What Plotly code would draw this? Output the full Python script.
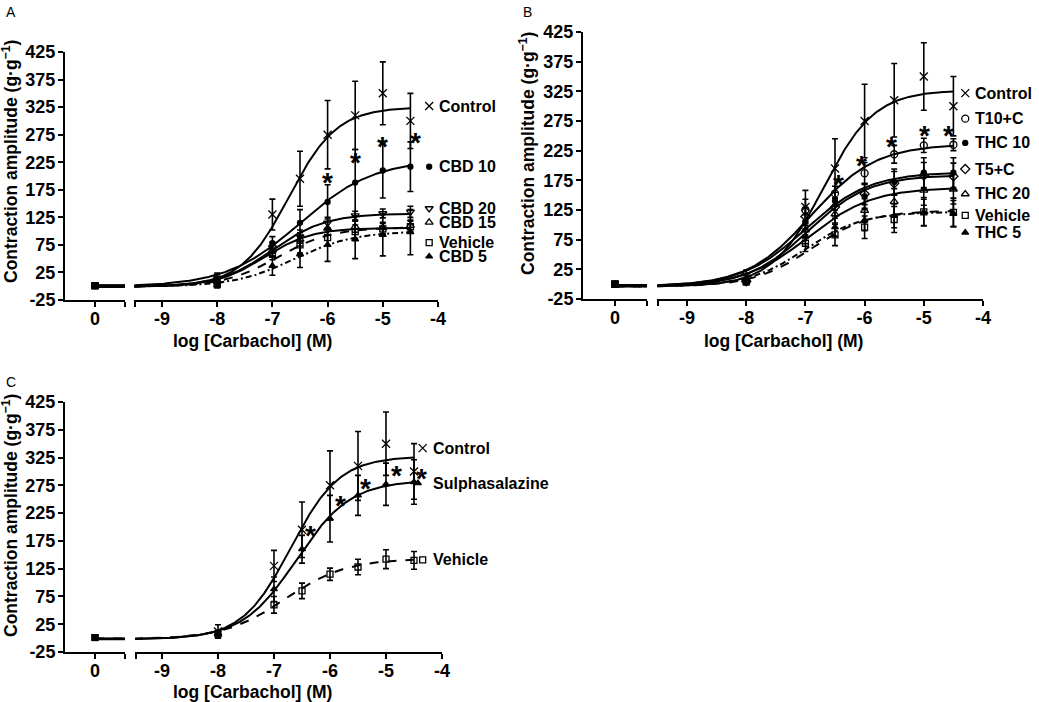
import numpy as np
import plotly.graph_objects as go

W, H = 1039, 702
FONT = "Liberation Sans, Arial, Helvetica, sans-serif"

# ---------------- data ----------------
log_conc = [-8, -7, -6.5, -6, -5.5, -5, -4.5]
y_ticks = [-25, 25, 75, 125, 175, 225, 275, 325, 375, 425]
x_ticks = [-9, -8, -7, -6, -5, -4]

# shared control data
control = [12, 130, 195, 275, 310, 350, 300]
control_sem = [12, 28, 50, 62, 62, 57, 50]

# Panel A (CBD)
a_names = ["Control", "CBD 10", "CBD 20", "CBD 15", "Vehicle", "CBD 5"]
a_base = [1, 1, 1, 1, 1, 1]
cbd10 = [14, 78, 115, 153, 188, 210, 217]
cbd10_sem = [8, 12, 24, 31, 60, 50, 45]
cbd20 = [12, 70, 90, 115, 128, 132, 135]
cbd20_sem = [6, 10, 12, 10, 8, 8, 10]
cbd15 = [10, 65, 85, 105, 108, 106, 110]
cbd15_sem = [6, 10, 12, 12, 10, 10, 10]
veh_a = [4, 58, 75, 88, 99, 104, 108]
veh_a_sem = [5, 10, 15, 15, 12, 10, 10]
cbd5 = [2, 37, 58, 75, 85, 93, 98]
cbd5_sem = [5, 17, 24, 30, 35, 38, 41]
a_top = [325, 230, 132, 106, 107, 100]
a_ec50 = [-6.7, -6.5, -7.0, -7.15, -6.9, -6.6]
a_hill = [1.0, 0.65, 0.9, 1.0, 0.9, 0.8]
a_bottom = -1
a_star_x = [-6.0, -5.5, -5.0, -4.4]
a_star_y = [199, 235, 265, 271]

# Panel B (THC)
b_names = ["Control", "T10+C", "THC 10", "T5+C", "THC 20", "Vehicle", "THC 5"]
b_base = [0, 0, 0, 0, 0, 0, 0]
t10c = [6, 125, 153, 187, 219, 234, 235]
t10c_sem = [5, 18, 12, 18, 15, 12, 10]
thc10 = [6, 105, 140, 148, 172, 188, 188]
thc10_sem = [5, 12, 15, 20, 22, 25, 25]
t5c = [5, 114, 130, 152, 170, 183, 182]
t5c_sem = [5, 15, 15, 18, 20, 22, 22]
thc20 = [5, 91, 118, 124, 139, 158, 160]
thc20_sem = [5, 12, 15, 20, 22, 25, 25]
veh_b = [4, 69, 83, 96, 109, 122, 121]
veh_b_sem = [5, 14, 18, 19, 22, 24, 24]
thc5 = [5, 80, 96, 108, 115, 121, 119]
thc5_sem = [5, 12, 15, 18, 20, 22, 22]
b_top = [327, 236, 189, 184, 163, 124, 122]
b_ec50 = [-6.7, -6.9, -7.0, -6.95, -6.95, -6.9, -7.0]
b_hill = [1.0, 0.8, 0.8, 0.85, 0.8, 0.9, 0.9]
b_bottom = -4
b_star_x = [-6.44, -6.06, -5.55, -4.99, -4.58]
b_star_y = [178, 210, 242, 260, 260]

# Panel C (Sulphasalazine)
c_names = ["Control", "Sulphasalazine", "Vehicle"]
c_base = [1, 1, 1]
sulph = [8, 88, 160, 215, 257, 277, 281]
sulph_sem = [4, 22, 25, 42, 36, 38, 40]
veh_c = [7, 60, 85, 115, 128, 142, 140]
veh_c_sem = [4, 15, 14, 11, 14, 17, 16]
c_top = [327, 284, 143]
c_ec50 = [-6.7, -6.6, -6.8]
c_hill = [1.0, 0.9, 0.8]
c_bottom = -2
c_star_x = [-6.35, -5.82, -5.36, -4.82, -4.36]
c_star_y = [195, 249, 280, 303, 298]

# ---------------- styles ----------------
SYM = {
    "Control": ("x-thin-open", 8), "CBD 10": ("circle", 5), "THC 10": ("circle", 5),
    "CBD 20": ("triangle-down-open", 7), "CBD 15": ("triangle-up-open", 7),
    "THC 20": ("triangle-up-open", 7), "Vehicle": ("square-open", 6),
    "CBD 5": ("triangle-up", 6), "THC 5": ("triangle-up", 6),
    "Sulphasalazine": ("triangle-up", 6), "T10+C": ("circle-open", 7),
    "T5+C": ("diamond-open", 7),
}
DASH = {"Vehicle": "dash", "CBD 5": "6px,3px,2px,3px", "THC 5": "6px,3px,2px,3px"}

panels = [
    dict(names=a_names, base=a_base,
         means=[control, cbd10, cbd20, cbd15, veh_a, cbd5],
         sems=[control_sem, cbd10_sem, cbd20_sem, cbd15_sem, veh_a_sem, cbd5_sem],
         top=a_top, ec50=a_ec50, hill=a_hill, bottom=a_bottom,
         star_x=a_star_x, star_y=a_star_y,
         px_y=(52, 300), px_left=(65, 125), px_right=(134, 438), px_m9=162, px_m4=438,
         leg_x=-4.16, leg_y=[327, 217, 141, 116, 79, 54], leg_xs=[0, 0, 0, 0, 0, 0],
         label="A", label_pos=(4, 2), xt_pos=(252, 341), yt_pos=(10, 162)),
    dict(names=b_names, base=b_base,
         means=[control, t10c, thc10, t5c, thc20, veh_b, thc5],
         sems=[control_sem, t10c_sem, thc10_sem, t5c_sem, thc20_sem, veh_b_sem, thc5_sem],
         top=b_top, ec50=b_ec50, hill=b_hill, bottom=b_bottom,
         star_x=b_star_x, star_y=b_star_y,
         px_y=(32, 299), px_left=(583, 647), px_right=(657, 983), px_m9=687, px_m4=983,
         leg_x=-4.30, leg_y=[322, 279, 238, 194, 152, 116, 87], leg_xs=[0] * 7,
         label="B", label_pos=(521, 2), xt_pos=(783, 341), yt_pos=(527, 154)),
    dict(names=c_names, base=c_base,
         means=[control, sulph, veh_c],
         sems=[control_sem, sulph_sem, veh_c_sem],
         top=c_top, ec50=c_ec50, hill=c_hill, bottom=c_bottom,
         star_x=c_star_x, star_y=c_star_y,
         px_y=(402, 652), px_left=(65, 125), px_right=(135, 442), px_m9=162, px_m4=442,
         leg_x=-4.345, leg_y=[342, 279, 141], leg_xs=[0, -0.085, 0],
         label="C", label_pos=(4, 372), xt_pos=(252, 692), yt_pos=(10, 516)),
]

fig = go.Figure()
layout = dict(template="none", width=W, height=H, margin=dict(l=0, r=0, t=0, b=0, pad=0),
              autosize=False,
              paper_bgcolor="white", plot_bgcolor="white", showlegend=False,
              font=dict(family=FONT, color="black"))
annotations = []

AX = dict(showgrid=False, zeroline=False, showline=True, linecolor="black", linewidth=2,
          ticks="outside", ticklen=5, tickwidth=2, tickcolor="black", automargin=False,
          tickfont=dict(family=FONT, size=18, color="black", weight="bold"))

for i, p in enumerate(panels):
    xl = f"x{2*i+1}" if i > 0 else "x"
    xr = f"x{2*i+2}"
    yy = f"y{i+1}" if i > 0 else "y"
    xl_key = "xaxis" if i == 0 else f"xaxis{2*i+1}"
    xr_key = f"xaxis{2*i+2}"
    y_key = "yaxis" if i == 0 else f"yaxis{i+1}"

    py0, py1 = p["px_y"]
    ydom = [1 - py1 / H, 1 - py0 / H]
    scale = (p["px_m4"] - p["px_m9"]) / 5.0
    x_start = -9 - (p["px_m9"] - p["px_right"][0]) / scale

    layout[y_key] = dict(AX, domain=ydom, range=[-25, 425], anchor=xl,
                         ticklabelstandoff=-1,
                         tickvals=y_ticks, ticktext=[str(v) for v in y_ticks])
    layout[xl_key] = dict(AX, domain=[p["px_left"][0] / W, p["px_left"][1] / W],
                          range=[-1, 1], anchor=yy, tickvals=[0], ticktext=["0"],
                          ticklabelstandoff=-4,
                          minor=dict(tickvals=[0.99], ticklen=5, tickwidth=2,
                                     tickcolor="black", ticks="outside", showgrid=False))
    layout[xr_key] = dict(AX, domain=[p["px_right"][0] / W, p["px_right"][1] / W],
                          range=[x_start, -4], anchor=yy, ticklabelstandoff=-4,
                          tickvals=x_ticks, ticktext=[str(v) for v in x_ticks],
                          minor=dict(tickvals=[x_start + 0.01], ticklen=5, tickwidth=2,
                                     tickcolor="black", ticks="outside", showgrid=False))

    xfit = np.linspace(-9.5, -4.5, 300)
    for k, name in enumerate(p["names"]):
        sym, size = SYM[name]
        dash = DASH.get(name, "solid")
        top, ec, h, bot = p["top"][k], p["ec50"][k], p["hill"][k], p["bottom"]
        yfit = bot + (top - bot) / (1 + 10 ** ((ec - xfit) * h))
        # fitted curve
        fig.add_trace(go.Scatter(x=xfit, y=yfit, mode="lines", xaxis=xr, yaxis=yy,
                                 line=dict(color="black", width=2, dash=dash),
                                 hoverinfo="skip"))
        fig.add_trace(go.Scatter(x=[0, 1], y=[yfit[0], yfit[0]], mode="lines",
                                 xaxis=xl, yaxis=yy, cliponaxis=True,
                                 line=dict(color="black", width=2.5, dash=dash),
                                 hoverinfo="skip"))
        mk = dict(symbol=sym, size=size, color="black",
                  line=dict(color="black", width=1.3))
        # data points
        fig.add_trace(go.Scatter(x=log_conc, y=p["means"][k], mode="markers",
                                 xaxis=xr, yaxis=yy, marker=mk, cliponaxis=False,
                                 error_y=dict(type="data", array=p["sems"][k], color="black",
                                              thickness=1.6, width=3)))
        fig.add_trace(go.Scatter(x=[0], y=[p["base"][k]], mode="markers",
                                 xaxis=xl, yaxis=yy, cliponaxis=False,
                                 marker=dict(symbol="square", size=7, color="black")))
        # legend
        lx = p["leg_x"] + p["leg_xs"][k]
        fig.add_trace(go.Scatter(x=[lx], y=[p["leg_y"][k]], mode="markers",
                                 xaxis=xr, yaxis=yy, marker=mk, cliponaxis=False))
        annotations.append(dict(x=p["leg_x"], y=p["leg_y"][k], xref=xr, yref=yy,
                                text=name, showarrow=False, xanchor="left", yanchor="middle",
                                xshift=8,
                                font=dict(family=FONT, size=16, weight="bold", color="black")))
    for sx, sy in zip(p["star_x"], p["star_y"]):
        annotations.append(dict(x=sx, y=sy, xref=xr, yref=yy, text="*", showarrow=False,
                                xanchor="center", yanchor="middle", yshift=-6,
                                font=dict(family=FONT, size=28, weight="bold", color="black")))
    # panel label and axis titles
    annotations.append(dict(x=p["label_pos"][0] / W, y=1 - p["label_pos"][1] / H,
                            xref="paper", yref="paper", text=p["label"], showarrow=False,
                            xanchor="left", yanchor="top",
                            font=dict(family=FONT, size=14, color="black")))
    annotations.append(dict(x=p["xt_pos"][0] / W, y=1 - p["xt_pos"][1] / H,
                            xref="paper", yref="paper", text="log [Carbachol] (M)",
                            showarrow=False, xanchor="center", yanchor="middle",
                            font=dict(family=FONT, size=17.5, weight="bold", color="black")))
    annotations.append(dict(x=p["yt_pos"][0] / W, y=1 - p["yt_pos"][1] / H,
                            xref="paper", yref="paper", textangle=-90,
                            text="Contraction amplitude (g·g<sup>−1</sup>)",
                            showarrow=False, xanchor="center", yanchor="middle",
                            font=dict(family=FONT, size=17.5, weight="bold", color="black")))

layout["annotations"] = annotations
fig.update_layout(**layout)
fig.write_html("out.html", config={"displayModeBar": False},
               post_script="document.body.style.margin='0';document.body.style.padding='0';")
